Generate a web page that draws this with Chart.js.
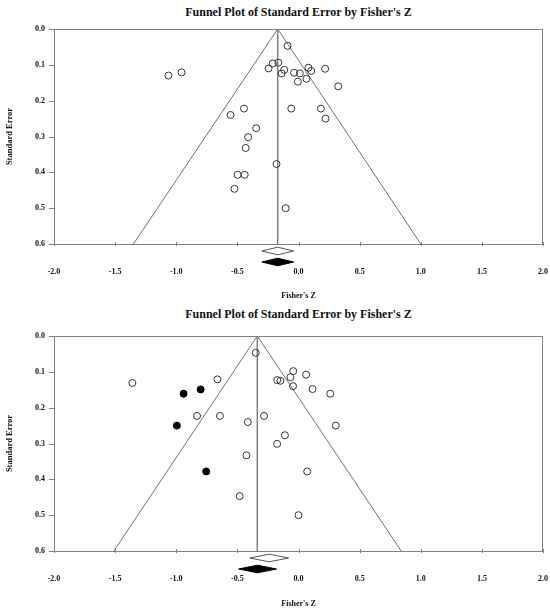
<!DOCTYPE html>
<html>
<head>
<meta charset="utf-8">
<script src="https://cdn.jsdelivr.net/npm/chart.js@4.4.1/dist/chart.umd.min.js"></script>
<style>
  body { margin: 0; background: #fff; }
  .wrap { position: relative; width: 550px; height: 611px; }
  .ttl { position: absolute; left: 54px; width: 489px; text-align: center;
         font: bold 12px 'Liberation Serif', serif; line-height: 16px; color: #111; }
  canvas { position: absolute; left: 0; }
</style>
</head>
<body>
<div class="wrap">
  <div class="ttl" style="top:4px">Funnel Plot of Standard Error by Fisher's Z</div>
  <canvas id="top" width="550" height="305" style="top:0"></canvas>
  <div class="ttl" style="top:306px">Funnel Plot of Standard Error by Fisher's Z</div>
  <canvas id="bottom" width="550" height="306" style="top:305px"></canvas>
</div>
<script>
// axes
const zTicks = [-2.0, -1.5, -1.0, -0.5, 0.0, 0.5, 1.0, 1.5, 2.0];
const seTicks = [0.0, 0.1, 0.2, 0.3, 0.4, 0.5, 0.6];

// plot 1 (observed studies)
const zTop = [-0.09, -0.21, -0.165, -0.245, -0.117, -0.138, -0.036, 0.011, 0.081, 0.104,
              0.218, 0.065, -0.005, 0.325, -1.064, -0.957, -0.446, -0.556, -0.059, 0.183,
              0.221, -0.346, -0.412, -0.432, -0.18, -0.498, -0.44, -0.524, -0.105];
const seTop = [0.047, 0.096, 0.094, 0.110, 0.114, 0.124, 0.122, 0.124, 0.108, 0.117,
               0.111, 0.139, 0.147, 0.160, 0.130, 0.121, 0.222, 0.240, 0.222, 0.222,
               0.250, 0.277, 0.302, 0.332, 0.377, 0.407, 0.407, 0.446, 0.500];
const meanTop = -0.17;
const funnelBaseTop = [-1.35, 1.00];
const diamondObsTop = [-0.30, -0.17, -0.04];
const diamondAdjTop = [-0.30, -0.17, -0.04];

// plot 2 (observed + imputed studies)
const zBot = [-0.35, -0.663, -1.359, -0.043, 0.062, -0.066, -0.174, -0.148, -0.045, 0.115,
              0.26, -0.83, -0.643, -0.282, -0.415, 0.305, -0.111, -0.175, -0.426, 0.071,
              -0.481, 0.0];
const seBot = [0.047, 0.121, 0.131, 0.098, 0.108, 0.115, 0.123, 0.125, 0.140, 0.148,
               0.161, 0.223, 0.223, 0.223, 0.240, 0.250, 0.277, 0.301, 0.333, 0.378,
               0.447, 0.500];
const zImp = [-0.80, -0.94, -0.995, -0.755];
const seImp = [0.149, 0.161, 0.250, 0.378];
const meanBot = -0.337;
const funnelBaseBot = [-1.51, 0.84];
const diamondObsBot = [-0.40, -0.24, -0.08];
const diamondAdjBot = [-0.49, -0.335, -0.18];

const FONT = "'Liberation Serif', serif";
const pts = (xs, ys) => xs.map((v, i) => ({ x: v, y: ys[i] }));

// frame, small tick marks and the summary diamonds
const funnelExtras = {
    id: 'funnelExtras',
    afterDraw(chart, args, opts) {
        const { ctx, chartArea: a, scales: { x, y } } = chart;
        ctx.save();
        ctx.strokeStyle = '#808080';
        ctx.lineWidth = 1;
        ctx.strokeRect(a.left + 0.5, a.top + 0.5, a.right - a.left - 1, a.bottom - a.top);
        ctx.beginPath();
        zTicks.forEach(v => {
            const px = Math.round(x.getPixelForValue(v)) + 0.5;
            ctx.moveTo(px, a.bottom - 2); ctx.lineTo(px, a.bottom + 2);
        });
        seTicks.forEach(v => {
            const py = Math.round(y.getPixelForValue(v)) + 0.5;
            ctx.moveTo(a.left - 5, py); ctx.lineTo(a.left, py);
        });
        ctx.stroke();

        const diamond = (d, cy, fill, stroke) => {
            const l = x.getPixelForValue(d[0]), m = x.getPixelForValue(d[1]), r = x.getPixelForValue(d[2]);
            ctx.beginPath();
            ctx.moveTo(l, cy); ctx.lineTo(m, cy - 3.8); ctx.lineTo(r, cy); ctx.lineTo(m, cy + 3.8);
            ctx.closePath();
            ctx.fillStyle = fill; ctx.fill();
            ctx.strokeStyle = stroke; ctx.stroke();
        };
        diamond(opts.observed, a.bottom + 7, '#fff', '#555');
        diamond(opts.adjusted, a.bottom + 18, '#000', '#000');
        ctx.restore();
    }
};

function makeChart(id, cfg) {
    const datasets = [
        {
            label: 'Studies', data: pts(cfg.z, cfg.se),
            pointRadius: 3.5, pointBorderWidth: 1, pointBorderColor: '#333',
            pointBackgroundColor: 'rgba(255,255,255,0)', showLine: false
        }
    ];
    if (cfg.zImp) {
        datasets.push({
            label: 'Imputed', data: pts(cfg.zImp, cfg.seImp),
            pointRadius: 3.5, pointBorderWidth: 1, pointBorderColor: '#000',
            pointBackgroundColor: '#000', showLine: false
        });
    }
    datasets.push(
        {
            label: 'Funnel', data: [{ x: cfg.base[0], y: 0.6 }, { x: cfg.mean, y: 0 }, { x: cfg.base[1], y: 0.6 }],
            showLine: true, borderColor: '#6f6f6f', borderWidth: 1, pointRadius: 0, tension: 0
        },
        {
            label: 'Mean', data: [{ x: cfg.mean, y: 0 }, { x: cfg.mean, y: 0.6 }],
            showLine: true, borderColor: '#808080', borderWidth: 1.5, pointRadius: 0
        }
    );

    return new Chart(document.getElementById(id), {
        type: 'scatter',
        data: { datasets },
        options: {
            responsive: false,
            animation: false,
            events: [],
            layout: { padding: { top: cfg.padTop, right: 7, left: 0, bottom: 0 } },
            plugins: {
                legend: { display: false },
                tooltip: { enabled: false },
                funnelExtras: { observed: cfg.dObs, adjusted: cfg.dAdj }
            },
            scales: {
                x: {
                    type: 'linear', min: -2, max: 2,
                    afterBuildTicks: s => { s.ticks = zTicks.map(v => ({ value: v })); },
                    afterFit: s => { s.height = cfg.xHeight; s.paddingLeft = 0; s.paddingRight = 0; },
                    grid: { display: false, drawTicks: false },
                    border: { display: false },
                    ticks: {
                        padding: 23, color: '#111', maxRotation: 0,
                        font: { family: FONT, size: 8, weight: 'bold' },
                        callback: v => v.toFixed(1)
                    },
                    title: {
                        display: true, text: "Fisher's Z", color: '#111',
                        font: { family: FONT, size: 8, weight: 'bold' },
                        padding: { top: 0, bottom: cfg.xTitlePad }
                    }
                },
                y: {
                    type: 'linear', min: 0, max: 0.6, reverse: true,
                    afterBuildTicks: s => { s.ticks = seTicks.map(v => ({ value: v })); },
                    afterFit: s => { s.width = 54; s.paddingTop = 0; s.paddingBottom = 0; },
                    grid: { display: false, drawTicks: false },
                    border: { display: false },
                    ticks: {
                        padding: 9, color: '#111',
                        font: { family: FONT, size: 8, weight: 'bold' },
                        callback: v => v.toFixed(1)
                    },
                    title: {
                        display: true, text: 'Standard Error', color: '#111',
                        font: { family: FONT, size: 8.5, weight: 'bold' },
                        padding: { top: 5, bottom: 0 }
                    }
                }
            }
        },
        plugins: [funnelExtras]
    });
}

makeChart('top', {
    z: zTop, se: seTop, mean: meanTop, base: funnelBaseTop,
    dObs: diamondObsTop, dAdj: diamondAdjTop,
    padTop: 29, xHeight: 61, xTitlePad: 4
});

makeChart('bottom', {
    z: zBot, se: seBot, zImp: zImp, seImp: seImp, mean: meanBot, base: funnelBaseBot,
    dObs: diamondObsBot, dAdj: diamondAdjBot,
    padTop: 31, xHeight: 60, xTitlePad: 2
});
</script>
</body>
</html>
